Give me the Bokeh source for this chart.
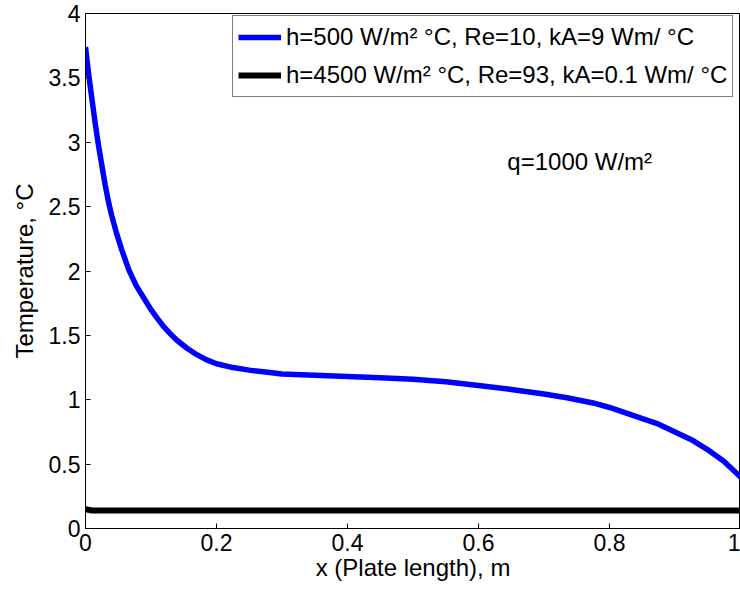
from bokeh.plotting import figure
from bokeh.models import Range1d, Label, Legend, LegendItem, FixedTicker
from bokeh.embed import file_html
from bokeh.resources import INLINE

# Data
x_blue = [0, 0.005, 0.01, 0.015, 0.02, 0.025, 0.03, 0.035, 0.04, 0.047, 0.055, 0.066, 0.077,
          0.089, 0.1, 0.11, 0.119, 0.13, 0.14, 0.155, 0.17, 0.185, 0.2, 0.225, 0.25, 0.275, 0.3,
          0.35, 0.4, 0.45, 0.5, 0.55, 0.6, 0.65, 0.7, 0.735, 0.775, 0.8, 0.847, 0.875, 0.9,
          0.925, 0.949, 0.975, 1.0]
t_blue = [3.74, 3.52, 3.33, 3.14, 2.97, 2.82, 2.67, 2.54, 2.43, 2.30, 2.17, 2.01, 1.89,
          1.79, 1.70, 1.63, 1.57, 1.51, 1.46, 1.40, 1.35, 1.31, 1.28, 1.25, 1.23, 1.215, 1.20,
          1.19, 1.18, 1.17, 1.16, 1.14, 1.11, 1.08, 1.045, 1.015, 0.975, 0.94, 0.86, 0.81, 0.75,
          0.69, 0.615, 0.52, 0.40]
x_black = [0, 0.01, 0.5, 1.0]
t_black = [0.15, 0.14, 0.14, 0.14]

label_blue = "h=500 W/m\u00b2 \u00b0C, Re=10, kA=9 Wm/ \u00b0C"
label_black = "h=4500 W/m\u00b2 \u00b0C, Re=93, kA=0.1 Wm/ \u00b0C"
note_text = "q=1000 W/m\u00b2"
x_ticks = [0, 0.2, 0.4, 0.6, 0.8, 1.0]
y_ticks = [0, 0.5, 1, 1.5, 2, 2.5, 3, 3.5, 4]

FONT = "Liberation Sans"

p = figure(width=740, height=591, output_backend="svg", toolbar_location=None,
           x_range=Range1d(0, 1), y_range=Range1d(0, 4),
           min_border_left=85, min_border_right=0, min_border_top=13, min_border_bottom=63,
           x_axis_label="x (Plate length), m", y_axis_label="Temperature, \u00b0C")
p.grid.visible = False
p.outline_line_color = "black"
p.outline_line_width = 1
p.background_fill_color = "white"
p.border_fill_color = "white"

for ax in [p.xaxis[0], p.yaxis[0]]:
    ax.major_tick_in = 5
    ax.major_tick_out = 0
    ax.minor_tick_line_color = None
    ax.axis_line_color = "black"
    ax.major_tick_line_color = "black"
    ax.major_label_text_font = FONT
    ax.major_label_text_font_size = "23px"
    ax.major_label_text_color = "black"
    ax.axis_label_text_font = FONT
    ax.axis_label_text_font_size = "24px"
    ax.axis_label_text_font_style = "normal"
    ax.axis_label_text_color = "black"

p.xaxis[0].ticker = FixedTicker(ticks=x_ticks)
p.yaxis[0].ticker = FixedTicker(ticks=y_ticks)
p.xaxis[0].major_label_overrides = {0: "0", 1: "1"}
p.yaxis[0].major_label_overrides = {0: "0", 1: "1", 2: "2", 3: "3", 4: "4"}
p.xaxis[0].major_label_standoff = 5
p.yaxis[0].major_label_standoff = 5
p.xaxis[0].axis_label_standoff = 0
p.yaxis[0].axis_label_standoff = 8

l1 = p.line(x_blue, t_blue, line_color="#0000FF", line_width=5.5, line_join="round")
l2 = p.line(x_black, t_black, line_color="black", line_width=6)

legend = Legend(items=[LegendItem(label=label_blue, renderers=[l1]),
                       LegendItem(label=label_black, renderers=[l2])],
                location=(147, 431))
legend.label_text_font = FONT
legend.label_text_font_size = "24px"
legend.label_text_color = "black"
legend.border_line_color = "black"
legend.border_line_width = 1
legend.padding = 5
legend.spacing = 6
legend.margin = 0
legend.glyph_width = 43
legend.glyph_height = 32
legend.label_height = 32
legend.label_standoff = 5
legend.background_fill_alpha = 1
p.add_layout(legend, "center")

p.add_layout(Label(x=0.644, y=2.85, text=note_text, text_font=FONT, text_font_size="24px",
                   text_baseline="middle", text_color="black"))

open("out.html", "w").write(file_html(p, INLINE))
